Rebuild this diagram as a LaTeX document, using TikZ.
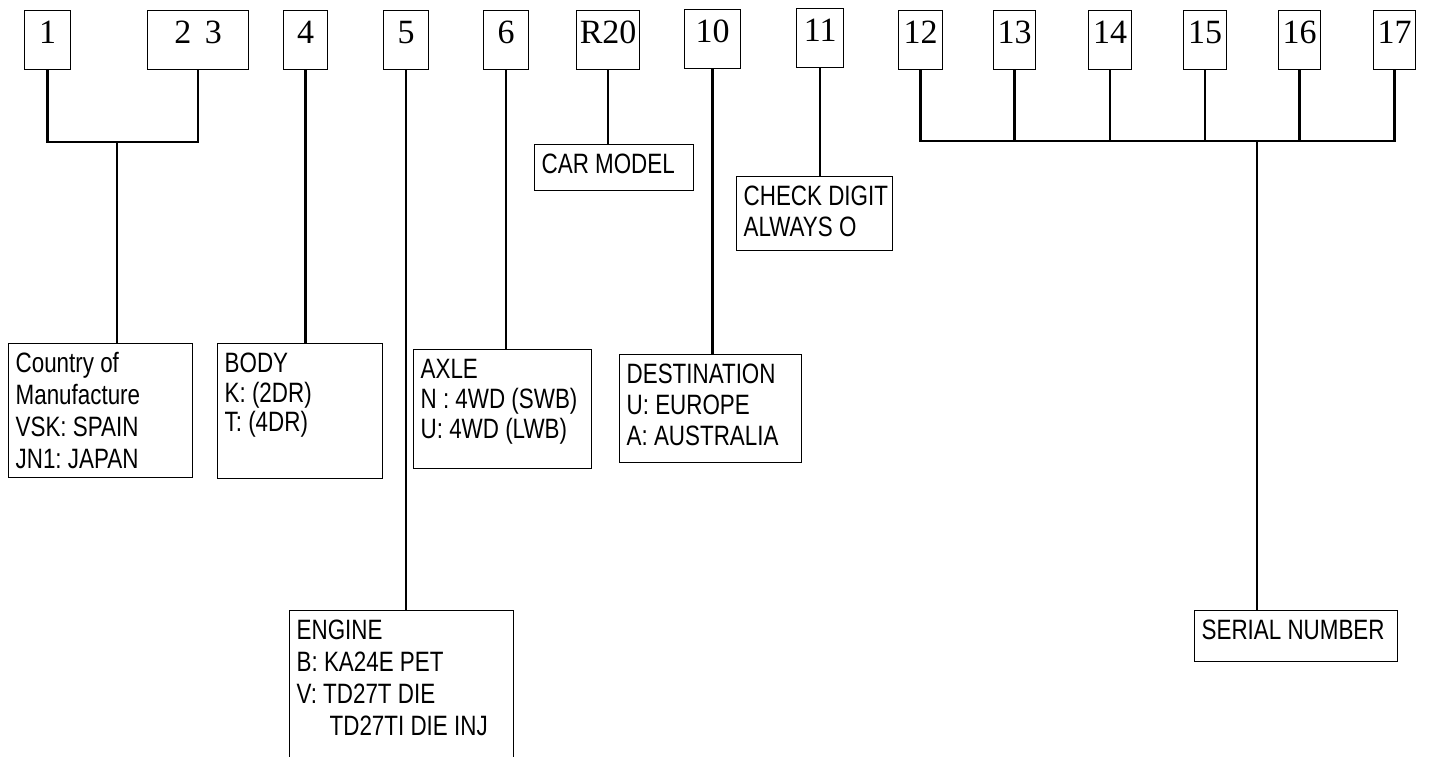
\documentclass[tikz,border=0pt]{standalone}
\usepackage{fontspec}
\setmainfont{Liberation Serif}
\newfontfamily\labfont[FakeStretch=0.8]{Liberation Sans}
\frenchspacing
\tikzset{
  numbox/.style={draw, line width=1.3pt, anchor=north west, inner sep=0pt,
    text height=33pt, text depth=26pt, font=\fontsize{34}{36}\selectfont},
  lbox/.style={draw, line width=1.3pt, anchor=north west, inner sep=0pt},
  conn/.style={line width=2.6pt, line cap=rect}
}
\newcommand{\lbtext}[4]{\parbox[c][#1pt][t]{#2pt}{\labfont\fontsize{28}{#3}\selectfont\frenchspacing\raggedright\leftskip=7pt\rule{0pt}{29pt}#4}}
\begin{document}
\begin{tikzpicture}[x=1pt, y=-1pt]
\useasboundingbox (0,0) rectangle (1453,756);
% number boxes
\node[numbox, minimum width=46pt] (n1) at (24,10) {1};
\node[numbox, minimum width=101pt] (n23) at (147,10) {2\hspace{0.4em}3};
\node[numbox, minimum width=44pt] (n4) at (283,10) {4};
\node[numbox, minimum width=45pt] (n5) at (383,10) {5};
\node[numbox, minimum width=45pt] (n6) at (483,10) {6};
\node[numbox, minimum width=63pt] (nr) at (576,10) {R20};
\node[numbox, minimum width=56pt] (n10) at (684,9) {10};
\node[numbox, minimum width=47pt] (n11) at (796,8) {11};
\node[numbox, minimum width=44pt] (n12) at (898,10) {12};
\node[numbox, minimum width=42pt] (n13) at (993,10) {13};
\node[numbox, minimum width=43pt] (n14) at (1088,10) {14};
\node[numbox, minimum width=43pt] (n15) at (1183,10) {15};
\node[numbox, minimum width=42pt] (n16) at (1278,10) {16};
\node[numbox, minimum width=42pt] (n17) at (1373,10) {17};
% label boxes
\node[lbox] (country) at (8,343) {\lbtext{134}{184}{32}{Country of\\Manufacture\\VSK: SPAIN\\JN1: JAPAN}};
\node[lbox] (body) at (217,343) {\lbtext{135}{165}{29.5}{BODY\\K: (2DR)\\T: (4DR)}};
\node[lbox] (engine) at (289,610) {\lbtext{160}{224}{32}{ENGINE\\B: KA24E PET\\V: TD27T DIE\\\hspace*{33pt}TD27TI DIE INJ}};
\node[lbox] (axle) at (413,349) {\lbtext{119}{178}{30}{AXLE\\N : 4WD (SWB)\\U: 4WD (LWB)}};
\node[lbox] (model) at (534,144) {\lbtext{46}{159}{31}{CAR MODEL}};
\node[lbox] (dest) at (619,354) {\lbtext{108}{182}{31}{DESTINATION\\U: EUROPE\\A: AUSTRALIA}};
\node[lbox] (check) at (736,176) {\lbtext{74}{156}{31}{CHECK DIGIT\\ALWAYS O}};
\node[lbox] (serial) at (1194,610) {\lbtext{51}{203}{31}{SERIAL NUMBER}};
% junctions
\coordinate (j1) at (117,142);
\coordinate (js) at (1257,141);
% connectors
\draw[conn] (n1.south) -- (n1.south |- j1) -- (n23.south |- j1) -- (n23.south);
\draw[conn] (j1) -- (j1 |- country.north);
\draw[conn] (n4.south) -- (n4.south |- body.north);
\draw[conn] (n5.south) -- (n5.south |- engine.north);
\draw[conn] (n6.south) -- (n6.south |- axle.north);
\draw[conn] (nr.south) -- (nr.south |- model.north);
\draw[conn] (n10.south) -- (n10.south |- dest.north);
\draw[conn] (n11.south) -- (n11.south |- check.north);
\draw[conn] (n12.south) -- (n12.south |- js) -- (n17.south |- js) -- (n17.south);
\foreach \k in {n13,n14,n15,n16} \draw[conn] (\k.south) -- (\k.south |- js);
\draw[conn] (js) -- (js |- serial.north);
\end{tikzpicture}
\end{document}
